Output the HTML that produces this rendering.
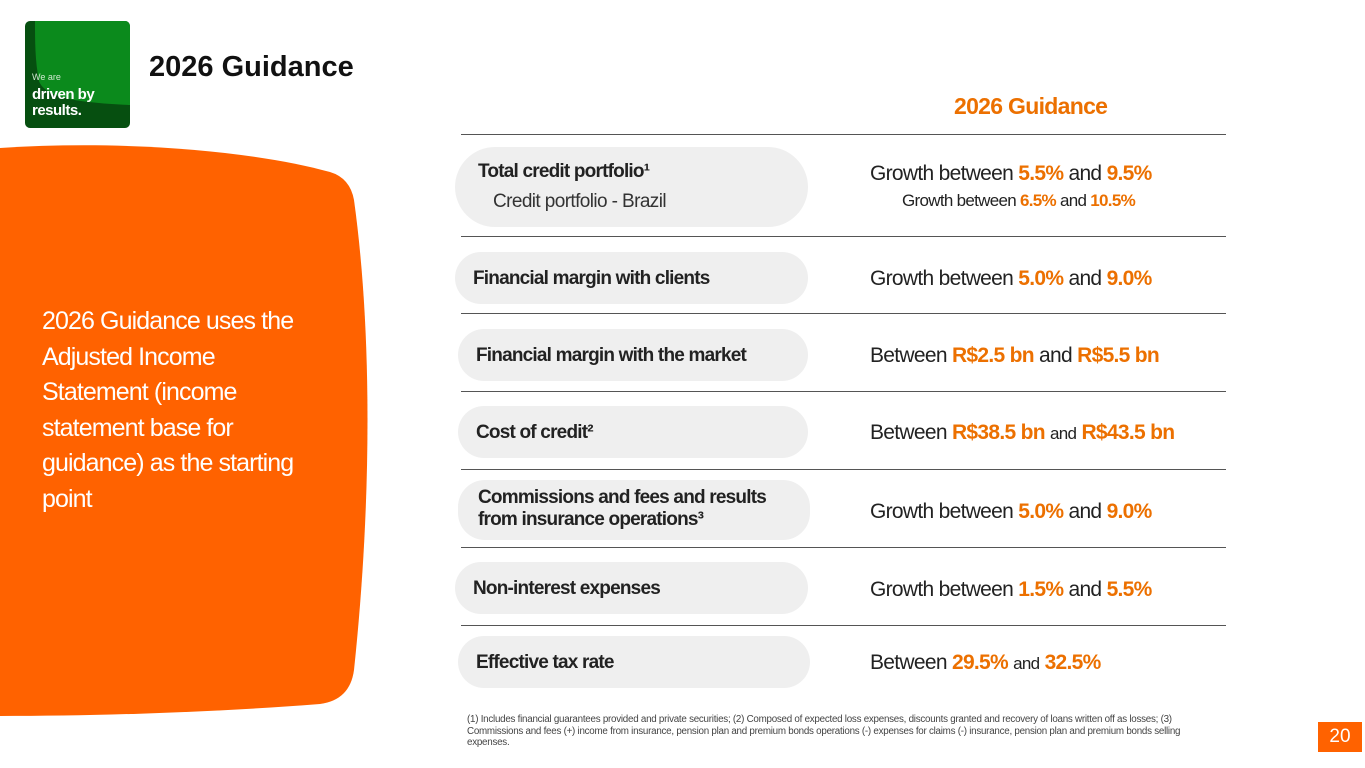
<!DOCTYPE html>
<html><head><meta charset="utf-8"><style>
body{margin:0;width:1365px;height:768px;overflow:hidden;background:#fff;font-family:"Liberation Sans",sans-serif;position:relative}
.a{position:absolute}
.pill{position:absolute;background:#efefef;border-radius:27px}
.pl{position:absolute;font-weight:bold;font-size:19px;color:#222;letter-spacing:-0.8px;white-space:nowrap}
.rt{position:absolute;left:870px;font-size:21px;color:#222;letter-spacing:-0.7px;white-space:nowrap}
.rt b{color:#ec7000}
.ln{position:absolute;left:461px;width:765px;height:1px;background:#555}
</style></head><body>
<svg class="a" style="left:0;top:0" width="400" height="768">
<path d="M0,148 C120,140 250,150 330,172 Q350,178 354,200 C372,330 372,500 354,670 Q350,700 320,704 C220,712 100,716 0,716 Z" fill="#ff6200"/>
</svg>
<div class="a" style="left:25px;top:21px;width:105px;height:107px;background:#064f10;border-radius:5px;overflow:hidden">
<svg class="a" style="left:0;top:0" width="105" height="107"><path d="M10,0 L105,0 L105,84 C60,82 20,78 14,60 C10,40 10,20 10,0 Z" fill="#0b8a1c"/></svg>
<div class="a" style="left:7px;top:51px;font-size:9px;color:#cfe8cf">We are</div>
<div class="a" style="left:7px;top:66px;font-size:15px;font-weight:bold;color:#fff;line-height:16px;letter-spacing:-0.5px">driven by<br>results.</div>
</div>
<div class="a" style="left:149px;top:51px;font-size:29px;font-weight:bold;color:#111">2026 Guidance</div>
<div class="a" style="left:42px;top:304px;font-size:25px;line-height:35.5px;color:#fff;letter-spacing:-0.9px;white-space:nowrap">2026 Guidance uses the<br>Adjusted Income<br>Statement (income<br>statement base for<br>guidance) as the starting<br>point</div>
<div class="a" style="left:954px;top:93px;font-size:23px;font-weight:bold;color:#ec7000;letter-spacing:-0.7px">2026 Guidance</div>
<div class="ln" style="top:134px"></div><div class="ln" style="top:236px"></div><div class="ln" style="top:313px"></div><div class="ln" style="top:391px"></div><div class="ln" style="top:469px"></div><div class="ln" style="top:547px"></div><div class="ln" style="top:625px"></div>

<div class="pill" style="left:455px;top:147px;width:353px;height:80px;border-radius:40px"></div>
<div class="pl" style="left:478px;top:161px">Total credit portfolio¹</div>
<div class="a" style="left:493px;top:191px;font-size:19px;color:#333;letter-spacing:-0.6px">Credit portfolio - Brazil</div>
<div class="rt" style="top:162px">Growth between <b>5.5%</b> and <b>9.5%</b></div>
<div class="rt" style="left:902px;top:191px;font-size:17px">Growth between <b>6.5%</b> and <b>10.5%</b></div>

<div class="pill" style="left:455px;top:252px;width:353px;height:52px"></div>
<div class="pl" style="left:473px;top:268px">Financial margin with clients</div>
<div class="rt" style="top:267px">Growth between <b>5.0%</b> and <b>9.0%</b></div>

<div class="pill" style="left:458px;top:329px;width:350px;height:52px"></div>
<div class="pl" style="left:476px;top:345px">Financial margin with the market</div>
<div class="rt" style="top:344px">Between <b>R$2.5 bn</b> and <b>R$5.5 bn</b></div>

<div class="pill" style="left:458px;top:406px;width:350px;height:52px"></div>
<div class="pl" style="left:476px;top:422px">Cost of credit²</div>
<div class="rt" style="top:421px">Between <b>R$38.5 bn</b> <span style="font-size:17px">and</span> <b>R$43.5 bn</b></div>

<div class="pill" style="left:458px;top:480px;width:352px;height:60px"></div>
<div class="pl" style="left:478px;top:487px;line-height:22px">Commissions and fees and results<br>from insurance operations³</div>
<div class="rt" style="top:500px">Growth between <b>5.0%</b> and <b>9.0%</b></div>

<div class="pill" style="left:455px;top:562px;width:353px;height:52px"></div>
<div class="pl" style="left:473px;top:578px">Non-interest expenses</div>
<div class="rt" style="top:578px">Growth between <b>1.5%</b> and <b>5.5%</b></div>

<div class="pill" style="left:458px;top:636px;width:352px;height:52px"></div>
<div class="pl" style="left:476px;top:652px">Effective tax rate</div>
<div class="rt" style="top:651px">Between <b>29.5%</b> <span style="font-size:17px">and</span> <b>32.5%</b></div>

<div class="a" style="left:467px;top:714px;font-size:9.8px;line-height:11.5px;color:#444;letter-spacing:-0.25px;white-space:nowrap">(1) Includes financial guarantees provided and private securities; (2) Composed of expected loss expenses, discounts granted and recovery of loans written off as losses; (3)<br>Commissions and fees (+) income from insurance, pension plan and premium bonds operations (-) expenses for claims (-) insurance, pension plan and premium bonds selling<br>expenses.</div>
<div class="a" style="left:1318px;top:722px;width:44px;height:30px;background:#ff6200;color:#fff;font-size:19px;text-align:center;line-height:30px">20</div>
</body></html>
